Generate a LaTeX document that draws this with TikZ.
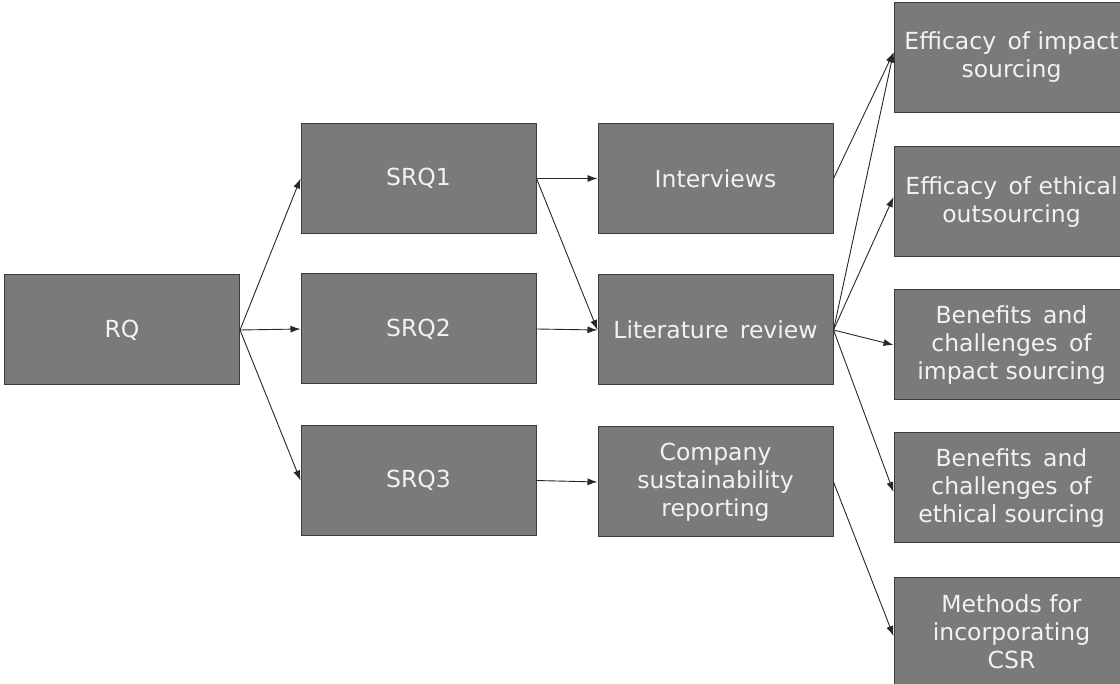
\documentclass[tikz,border=0pt]{standalone}
\usepackage{fontspec}
\setmainfont{DejaVu Sans}
\usetikzlibrary{arrows.meta}
\definecolor{boxfill}{RGB}{122,122,122}
\definecolor{boxline}{RGB}{60,60,60}
\definecolor{boxtext}{RGB}{242,242,242}
\definecolor{arrowc}{RGB}{40,40,40}
\tikzset{
  box/.style={draw=boxline, line width=1pt, fill=boxfill, minimum width=235pt, minimum height=110pt,
    text=boxtext, align=center, inner sep=0pt, font=\fontsize{23.5}{28}\selectfont},
  conn/.style={draw=arrowc, line width=0.9pt, -{Latex[length=10pt,width=7pt]}}
}
\begin{document}
\begin{tikzpicture}[x=1pt,y=-1pt]
\clip (0,0) rectangle (1120,684);
\fill[white] (0,0) rectangle (1120,684);
\node[box] (RQ) at (122,330) {RQ};
\node[box] (S1) at (418.5,178.5) {SRQ1};
\node[box] (S2) at (418.5,329) {SRQ2};
\node[box] (S3) at (418.5,480.5) {SRQ3};
\node[box] (IV) at (715.5,178.5) {Interviews};
\node[box] (LR) at (715.5,330) {Literature\, review};
\node[box] (CS) at (715.5,482) {Company\\sustainability\\reporting};
\node[box] (E1) at (1011.5,57.5) {Efficacy\, of impact\\sourcing};
\node[box] (E2) at (1011.5,202) {Efficacy\, of ethical\\outsourcing};
\node[box] (B1) at (1011.5,345) {Benefits\, and\\challenges\, of\\impact sourcing};
\node[box] (B2) at (1011.5,488) {Benefits\, and\\challenges\, of\\ethical sourcing};
\node[box] (M) at (1011.5,632) {Methods for\\incorporating\\CSR};
\draw[conn] (RQ.east) -- (S1.west);
\draw[conn] (RQ.east) -- (S2.west);
\draw[conn] (RQ.east) -- (S3.west);
\draw[conn] (S1.east) -- (IV.west);
\draw[conn] (S1.east) -- (LR.west);
\draw[conn] (S2.east) -- (LR.west);
\draw[conn] (S3.east) -- (CS.west);
\draw[conn] (IV.east) -- ([yshift=5pt]E1.west);
\draw[conn] (LR.east) -- ([yshift=5pt]E1.west);
\draw[conn] (LR.east) -- ([yshift=5pt]E2.west);
\draw[conn] (LR.east) -- (B1.west);
\draw[conn] (LR.east) -- ([yshift=-4pt]B2.west);
\draw[conn] (CS.east) -- ([yshift=-4pt]M.west);
\end{tikzpicture}
\end{document}
